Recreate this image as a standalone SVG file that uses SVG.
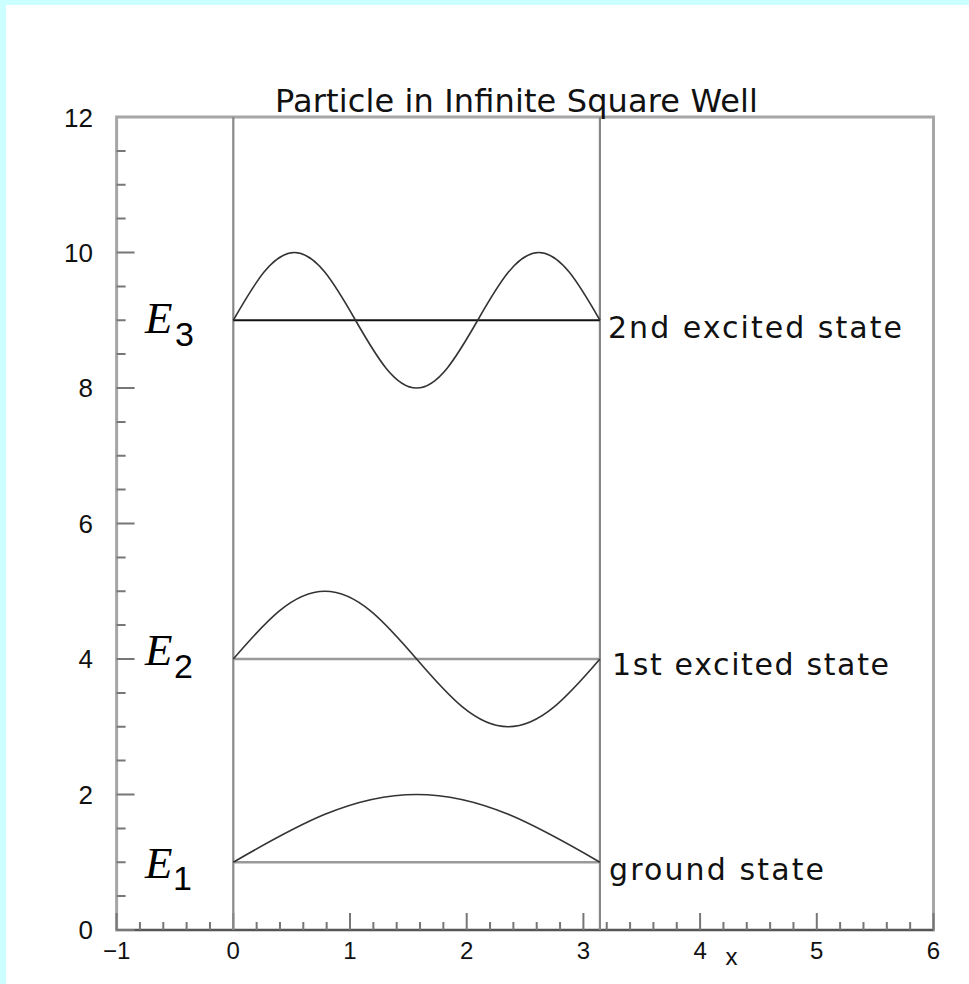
<svg xmlns="http://www.w3.org/2000/svg" width="969" height="984" viewBox="0 0 969 984">
<style>
.lbl{font-family:"Liberation Sans",Arial,sans-serif;fill:#111}
.dv{font-family:"DejaVu Sans","Liberation Sans",sans-serif;fill:#111}
.tick{font-size:26px}
.xt{font-size:24px;text-anchor:middle}
.state{font-size:30px}
.en{font-family:"Liberation Serif","Times New Roman",serif;font-style:italic;font-size:45px;fill:#000}
.sub{font-family:"Liberation Sans",Arial,sans-serif;font-size:34px;fill:#000}
.frame{fill:none;stroke:#a6a6a6;stroke-width:3}
.ticks{fill:none;stroke:#777;stroke-width:2}
.wall{stroke:#888;stroke-width:2.2;fill:none}
.level{stroke:#999;stroke-width:2.5;fill:none}
.wave{stroke:#333;stroke-width:1.6;fill:none}
</style>
<rect x="0" y="0" width="969" height="984" fill="#ccffff"/>
<rect x="6" y="5" width="963" height="979" fill="#ffffff"/>

<g id="axes">
<rect class="frame" x="116.6" y="117" width="816.9" height="813"/>
<line x1="116.6" y1="930" x2="933.5" y2="930" stroke="#555" stroke-width="2"/>
<path class="ticks" d="M116.6 930h18M116.6 896.1h9M116.6 862.25h9M116.6 828.4h9M116.6 794.5h18M116.6 760.6h9M116.6 726.75h9M116.6 692.9h9M116.6 659h18M116.6 625.1h9M116.6 591.25h9M116.6 557.4h9M116.6 523.5h18M116.6 489.6h9M116.6 455.75h9M116.6 421.9h9M116.6 388h18M116.6 354.1h9M116.6 320.25h9M116.6 286.4h9M116.6 252.5h18M116.6 218.6h9M116.6 184.75h9M116.6 150.9h9"/>
<path class="ticks" d="M116.6 930v-17M139.94 930v-8M163.28 930v-8M186.62 930v-8M209.96 930v-8M233.3 930v-17M256.64 930v-8M279.98 930v-8M303.32 930v-8M326.66 930v-8M350 930v-17M373.34 930v-8M396.68 930v-8M420.02 930v-8M443.36 930v-8M466.7 930v-17M490.04 930v-8M513.38 930v-8M536.72 930v-8M560.06 930v-8M583.4 930v-17M606.74 930v-8M630.08 930v-8M653.42 930v-8M676.76 930v-8M700.1 930v-17M723.44 930v-8M746.78 930v-8M770.12 930v-8M793.46 930v-8M816.8 930v-17M840.14 930v-8M863.48 930v-8M886.82 930v-8M910.16 930v-8M933.5 930v-17"/>
<g class="lbl tick" text-anchor="end">
<text x="93" y="127">12</text>
<text x="93" y="262">10</text>
<text x="93" y="397">8</text>
<text x="93" y="533">6</text>
<text x="93" y="668">4</text>
<text x="93" y="804">2</text>
<text x="93" y="939">0</text>
</g>
<g class="lbl xt">
<text x="116.6" y="959">−1</text>
<text x="233.3" y="959">0</text>
<text x="350" y="959">1</text>
<text x="466.7" y="959">2</text>
<text x="583.4" y="959">3</text>
<text x="700.1" y="959">4</text>
<text x="816.8" y="959">5</text>
<text x="933.5" y="959">6</text>
</g>
<text class="lbl" x="731.5" y="965" font-size="24" text-anchor="middle">x</text>
<text id="title" class="dv" x="275" y="112" font-size="32" textLength="483" lengthAdjust="spacing">Particle in Infinite Square Well</text>
</g>

<g id="well">
<line class="wall" x1="233.3" y1="117" x2="233.3" y2="930"/>
<line class="wall" x1="599.9" y1="117" x2="599.9" y2="930"/>
</g>

<g id="state1">
<line class="level" x1="233.3" y1="862.25" x2="599.9" y2="862.25"/>
<path class="wave" d="M233.3 862.25c64.42 -37.4 118.8 -67.75 183.31 -67.75c64.51 0 118.9 30.35 183.31 67.75"/>
<text class="en" x="145" y="878">E</text><text class="sub" x="173" y="890">1</text>
<text class="dv state" x="609" y="880" textLength="215" lengthAdjust="spacing">ground state</text>
</g>

<g id="state2">
<line class="level" x1="233.3" y1="659" x2="599.9" y2="659"/>
<path class="wave" d="M233.3 659c32.21 -37.4 59.4 -67.75 91.655 -67.75c32.25 0 59.45 30.35 91.655 67.75c32.21 37.4 59.4 67.75 91.655 67.75c32.25 0 59.45 -30.35 91.655 -67.75"/>
<text class="en" x="145" y="665">E</text><text class="sub" x="174" y="678">2</text>
<text class="dv state" x="612" y="675" textLength="277" lengthAdjust="spacing">1st excited state</text>
</g>

<g id="state3">
<line x1="233.3" y1="320.25" x2="599.9" y2="320.25" stroke="#111" stroke-width="2"/>
<path class="wave" d="M233.3 320.25c21.47 -37.4 39.6 -67.75 61.103 -67.75c21.5 0 39.63 30.35 61.103 67.75c21.47 37.4 39.6 67.75 61.103 67.75c21.5 0 39.63 -30.35 61.103 -67.75c21.47 -37.4 39.6 -67.75 61.103 -67.75c21.5 0 39.63 30.35 61.103 67.75"/>
<text class="en" x="145" y="333">E</text><text class="sub" x="175" y="346">3</text>
<text class="dv state" x="608" y="338" textLength="294" lengthAdjust="spacing">2nd excited state</text>
</g>
</svg>
